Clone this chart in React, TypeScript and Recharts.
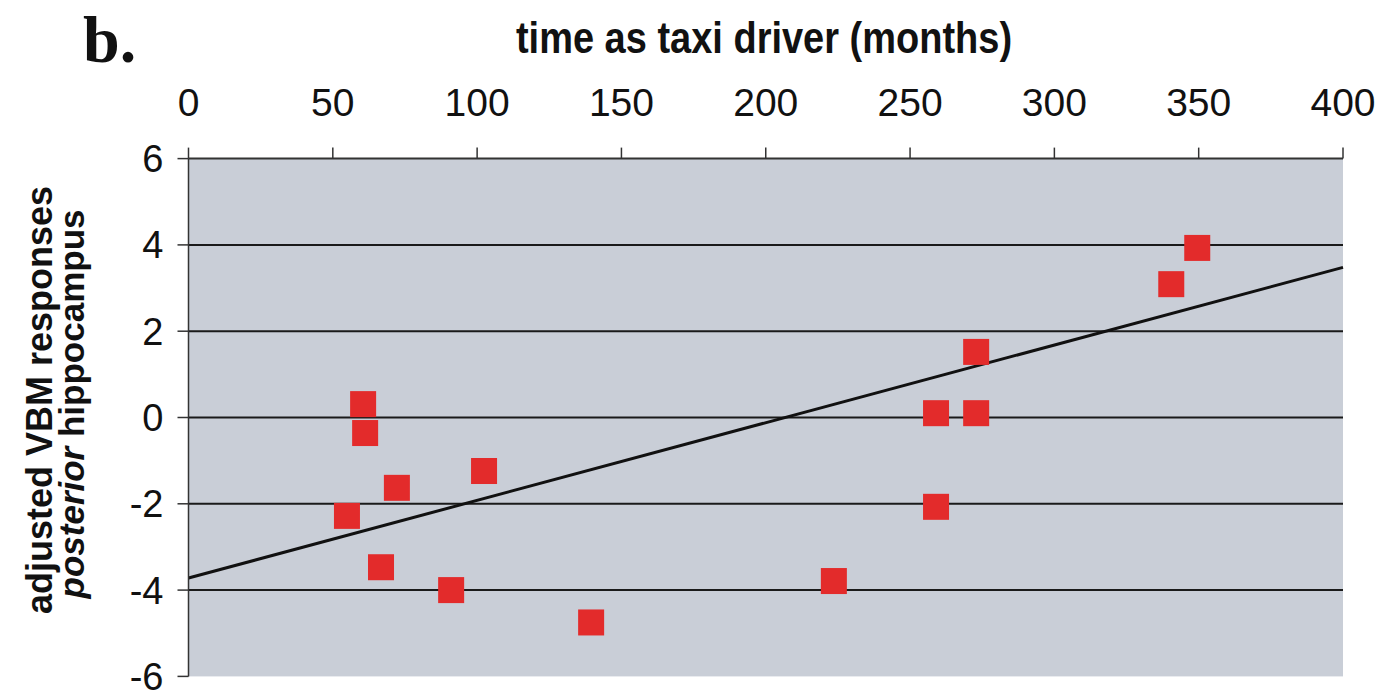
import React from 'react';
import {
  ScatterChart,
  Scatter,
  XAxis,
  YAxis,
  CartesianGrid,
  ReferenceLine,
} from 'recharts';

// Data
const months = [60.5, 61.2, 72.2, 102.4, 54.9, 66.7, 91.0, 139.5, 272.9, 259.0, 272.9, 259.0, 223.6, 349.5, 340.5];
const vbm = [0.31, -0.36, -1.63, -1.24, -2.28, -3.47, -4.0, -4.75, 1.52, 0.1, 0.1, -2.07, -3.79, 3.93, 3.09];
const fitMonths = [0, 400];
const fitVbm = [-3.72, 3.48];
const xTicks = [0, 50, 100, 150, 200, 250, 300, 350, 400];
const yTicks = [-6, -4, -2, 0, 2, 4, 6];
const gridValues = [-4, -2, 0, 2, 4];

const panelLabel = 'b.';
const xTitle = 'time as taxi driver (months)';
const yTitle1 = 'adjusted VBM responses';
const yTitle2a = 'posterior';
const yTitle2b = ' hippocampus';

const points = months.map((m, i) => ({ x: m, y: vbm[i] }));

const FONT = 'Liberation Sans, Arial, Helvetica, sans-serif';
const W = 1370;
const H = 682;

const Square = (props: any) => {
  const { cx, cy } = props;
  if (cx == null || cy == null) return <g />;
  return <rect x={cx - 13} y={cy - 13} width={26} height={26} fill="#e32b2b" />;
};

export default function App() {
  return (
    <div style={{ position: 'relative', width: W, height: H }}>
      <ScatterChart
        width={W}
        height={H}
        margin={{ top: 90.6, left: 120.5, right: 35, bottom: 13.6 }}
        style={{ overflow: 'visible' }}
      >
        <CartesianGrid
          vertical={false}
          horizontalValues={gridValues}
          stroke="#1a1a1a"
          strokeWidth={2}
          fill="#c9ced7"
          fillOpacity={1}
        />
        <XAxis
          type="number"
          dataKey="x"
          orientation="top"
          domain={[0, 400]}
          ticks={xTicks}
          interval={0}
          height={60}
          tickSize={11}
          tickMargin={32}
          axisLine={{ stroke: '#333', strokeWidth: 2 }}
          tickLine={{ stroke: '#333', strokeWidth: 1.5 }}
          tick={{ fontSize: 39, fill: '#111', fontFamily: FONT }}
          allowDataOverflow
        />
        <YAxis
          type="number"
          dataKey="y"
          domain={[-6, 6]}
          ticks={yTicks}
          interval={0}
          width={60}
          tickSize={11}
          tickMargin={14}
          axisLine={{ stroke: '#333', strokeWidth: 1.5 }}
          tickLine={{ stroke: '#333', strokeWidth: 1.5 }}
          tick={{ fontSize: 38, fill: '#111', fontFamily: FONT }}
          allowDataOverflow
        />
        <ReferenceLine
          segment={[
            { x: fitMonths[0], y: fitVbm[0] },
            { x: fitMonths[1], y: fitVbm[1] },
          ]}
          stroke="#111"
          strokeWidth={3}
          ifOverflow="visible"
        />
        <Scatter data={points} shape={Square} isAnimationActive={false} />
      </ScatterChart>
      <svg
        width={W}
        height={H}
        style={{ position: 'absolute', left: 0, top: 0, pointerEvents: 'none', overflow: 'visible' }}
      >
        <text
          x={75}
          y={54}
          fontFamily="Liberation Serif, Times New Roman, serif"
          fontWeight="bold"
          fontSize={66}
          fill="#111"
        >
          {panelLabel}
        </text>
        <text
          transform="translate(756,45) scale(1,1.15)"
          textAnchor="middle"
          fontFamily={FONT}
          fontWeight="bold"
          fontSize={38}
          fill="#111"
        >
          {xTitle}
        </text>
        <text
          transform="translate(44,392) rotate(-90)"
          textAnchor="middle"
          fontFamily={FONT}
          fontWeight="bold"
          fontSize={36}
          fill="#111"
        >
          {yTitle1}
        </text>
        <text
          transform="translate(76,396) rotate(-90)"
          textAnchor="middle"
          fontFamily={FONT}
          fontWeight="bold"
          fontSize={35}
          fill="#111"
        >
          <tspan fontStyle="italic">{yTitle2a}</tspan>
          <tspan>{yTitle2b}</tspan>
        </text>
      </svg>
    </div>
  );
}
